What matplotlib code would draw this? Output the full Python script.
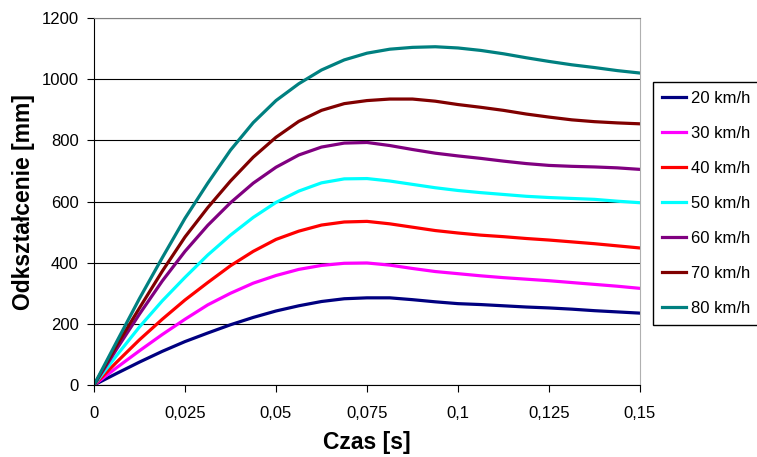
import matplotlib
matplotlib.use('Agg')
import matplotlib.pyplot as plt

plt.rcParams['font.family'] = ['Liberation Sans', 'DejaVu Sans']

# czas [s]
czas = [0, 0.00625, 0.0125, 0.01875, 0.025, 0.03125, 0.0375, 0.04375, 0.05,
        0.05625, 0.0625, 0.06875, 0.075, 0.08125, 0.0875, 0.09375, 0.1,
        0.10625, 0.1125, 0.11875, 0.125, 0.13125, 0.1375, 0.14375, 0.15]

# odksztalcenie [mm] dla kazdej predkosci
v20 = [0, 38, 75, 110, 142, 170, 197, 221, 242, 259, 273, 282, 285, 285, 279,
       272, 266, 263, 259, 255, 252, 248, 243, 239, 235]
v30 = [0, 57, 112, 165, 215, 262, 300, 333, 358, 378, 391, 398, 399, 392, 381,
       371, 364, 357, 351, 346, 341, 335, 329, 323, 316]
v40 = [0, 75, 148, 215, 278, 335, 390, 437, 476, 503, 523, 533, 535, 527, 516,
       505, 497, 490, 485, 479, 474, 468, 462, 455, 448]
v50 = [0, 97, 190, 275, 352, 425, 490, 548, 597, 634, 661, 674, 675, 667, 656,
       645, 636, 629, 623, 617, 613, 610, 607, 601, 596]
v60 = [0, 118, 232, 340, 437, 522, 596, 660, 712, 752, 778, 791, 793, 783, 770,
       758, 749, 741, 732, 724, 718, 715, 713, 710, 705]
v70 = [0, 130, 252, 372, 484, 580, 667, 745, 810, 862, 898, 920, 930, 935, 935,
       928, 917, 908, 898, 886, 876, 867, 861, 857, 854]
v80 = [0, 142, 283, 416, 545, 660, 768, 858, 930, 985, 1030, 1063, 1085, 1098,
       1104, 1106, 1102, 1094, 1083, 1070, 1058, 1047, 1038, 1028, 1020]

serie = [v20, v30, v40, v50, v60, v70, v80]
etykiety = ['20 km/h', '30 km/h', '40 km/h', '50 km/h', '60 km/h', '70 km/h', '80 km/h']
kolory = ['#000080', '#FF00FF', '#FF0000', '#00FFFF', '#800080', '#800000', '#008080']

x_ticks = [0, 0.025, 0.05, 0.075, 0.1, 0.125, 0.15]
x_labels = ['0', '0,025', '0,05', '0,075', '0,1', '0,125', '0,15']
y_ticks = [0, 200, 400, 600, 800, 1000, 1200]

W, H = 757, 457
fig = plt.figure(figsize=(W / 100, H / 100), dpi=100)
ax = fig.add_axes([94 / W, 1 - 385 / H, 546 / W, 367 / H])

for y, lab, c in zip(serie, etykiety, kolory):
    ax.plot(czas, y, color=c, lw=2.3, label=lab, solid_joinstyle='round')

ax.set_xlim(0, 0.15)
ax.set_ylim(0, 1200)
ax.set_xticks(x_ticks)
ax.set_xticklabels(x_labels)
ax.set_yticks(y_ticks)
ax.yaxis.grid(True, color='black', lw=0.8)
ax.set_axisbelow(True)
ax.tick_params(axis='both', direction='out', length=5, width=0.8, labelsize=12)
ax.tick_params(axis='x', pad=10)
ax.tick_params(axis='y', pad=6)

ax.spines['top'].set_color('#808080')
ax.spines['right'].set_color('#b0b0b0')
ax.spines['left'].set_linewidth(0.8)
ax.spines['bottom'].set_linewidth(0.8)

fig.text(24 / W, 1 - 202 / H, 'Odkształcenie [mm]', rotation=90, ha='center',
         va='center', fontsize=16.5, fontweight='bold')
fig.text(367 / W, 1 - 442 / H, 'Czas [s]', ha='center', va='center',
         fontsize=16.5, fontweight='bold')

leg = fig.legend(loc='upper left', bbox_to_anchor=(653 / W, 1 - 82 / H),
                 fontsize=12, frameon=True, fancybox=False, framealpha=1,
                 edgecolor='black', borderpad=0.55, labelspacing=1.2,
                 handlelength=1.45, handletextpad=0.3, borderaxespad=0)
leg.get_frame().set_linewidth(1)
for l in leg.get_lines():
    l.set_linewidth(2.3)

fig.savefig('out.png', dpi=100, facecolor='white')
